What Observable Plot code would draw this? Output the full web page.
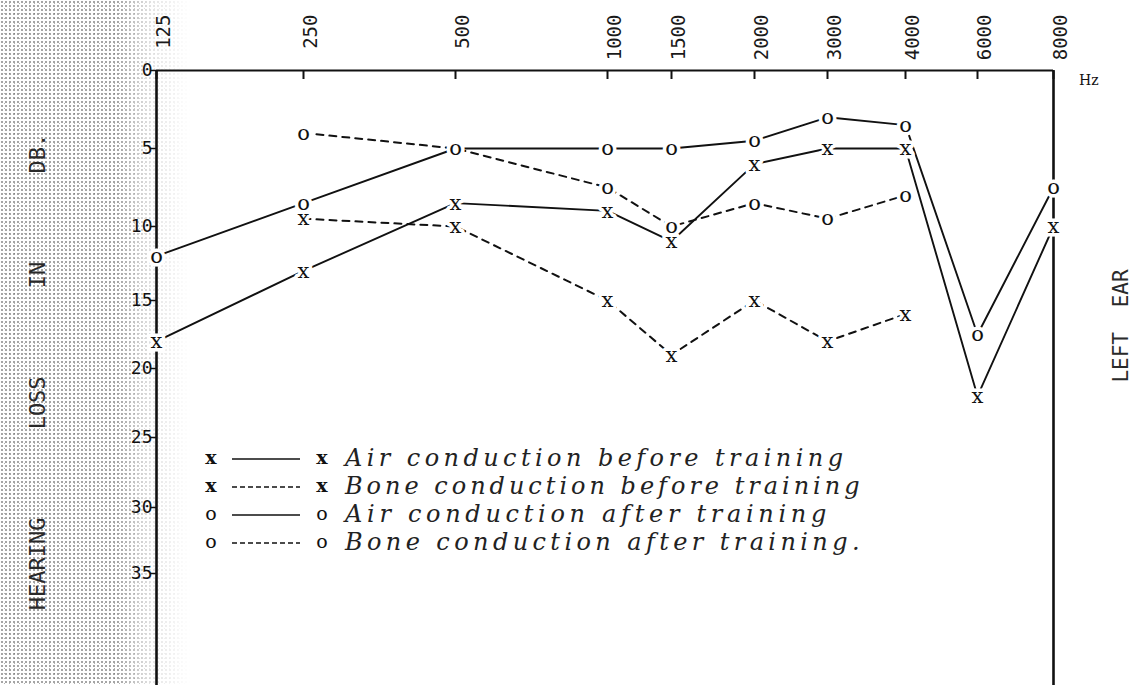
<!DOCTYPE html>
<html>
<head>
<meta charset="utf-8">
<script src="https://cdn.jsdelivr.net/npm/d3@7"></script>
<script src="https://cdn.jsdelivr.net/npm/@observablehq/plot@0.6"></script>
<style>
  html, body { margin: 0; padding: 0; background: #fff; }
  #wrap { position: relative; width: 1140px; height: 685px; overflow: hidden; background: #fff; }
  #stipple {
    position: absolute; left: 0; top: 0; width: 190px; height: 685px;
    background-image:
      radial-gradient(circle, rgba(90,90,90,0.55) 0.7px, transparent 1.1px),
      radial-gradient(circle, rgba(90,90,90,0.45) 0.6px, transparent 1px);
    background-size: 4px 4px, 5px 5px;
    background-position: 0 0, 2px 1px;
    -webkit-mask-image: linear-gradient(to right, #000 0%, #000 62%, rgba(0,0,0,0.3) 80%, transparent 100%);
    mask-image: linear-gradient(to right, #000 0%, #000 62%, rgba(0,0,0,0.3) 80%, transparent 100%);
  }
  #chart { position: absolute; left: 0; top: 0; }
  #overlay { position: absolute; left: 0; top: 0; pointer-events: none; }
</style>
</head>
<body>
<div id="wrap">
  <div id="stipple"></div>
  <div id="chart"></div>
  <svg id="overlay" width="1140" height="685"></svg>
</div>
<script>
// ---------- data ----------
const freqTicks = [125, 250, 500, 1000, 1500, 2000, 3000, 4000, 6000, 8000];
const dbTicks = [0, 5, 10, 15, 20, 25, 30, 35];

const airFreqs  = [125, 250, 500, 1000, 1500, 2000, 3000, 4000, 6000, 8000];
const boneFreqs = [250, 500, 1000, 1500, 2000, 3000, 4000];

const airBefore  = [18, 13, 8.5, 9, 11, 6, 5, 5, 22, 10];
const boneBefore = [9.5, 10, 15, 19, 15, 18, 16];
const airAfter   = [12, 8.5, 5, 5, 5, 4.5, 3, 3.5, 17.5, 7.5];
const boneAfter  = [4, 5, 7.5, 10, 8.5, 9.5, 8];

const seriesNames = [
  "Air conduction before training",
  "Bone conduction before training",
  "Air conduction after training",
  "Bone conduction after training."
];
const seriesConduction = ["Air", "Bone", "Air", "Bone"];
const seriesTiming = ["before", "before", "after", "after"];
const seriesFreqs = [airFreqs, boneFreqs, airFreqs, boneFreqs];
const seriesValues = [airBefore, boneBefore, airAfter, boneAfter];

const yTitle = "HEARING LOSS IN DB.";
const rightTitle = "LEFT EAR";
const unitLabel = "Hz";

// ---------- build table ----------
const markerFor = t => (t === "before" ? "x" : "o");
const rows = [];
seriesNames.forEach((name, i) => {
  seriesFreqs[i].forEach((f, j) => {
    rows.push({series: name, conduction: seriesConduction[i], timing: seriesTiming[i], freq: f, db: seriesValues[i][j]});
  });
});

const ink = "#111";
const monoFont = "DejaVu Sans Mono";
const serifFont = "DejaVu Serif";

// hand-ruled audiogram paper: spacing is not perfectly regular
const xRange = [156, 303, 455, 607, 671, 754, 827, 905, 977, 1053];
const yDomain = [...dbTicks, 43.3];
const yRange = [70, 148, 226, 300, 368, 437, 507, 573, 685];

const chart = Plot.plot({
  width: 1140,
  height: 685,
  marginTop: 70,
  marginLeft: 156,
  marginRight: 87,
  marginBottom: 0,
  style: {background: "transparent", overflow: "visible"},
  x: {type: "linear", domain: freqTicks, range: xRange},
  y: {type: "linear", domain: yDomain, range: yRange},
  marks: [
    Plot.ruleY([dbTicks[0]], {stroke: ink, strokeWidth: 2.2}),
    Plot.ruleX([freqTicks[0], freqTicks[freqTicks.length - 1]], {stroke: ink, strokeWidth: 2.6}),
    Plot.axisX({anchor: "top", ticks: freqTicks, tickSize: -8, tickFormat: () => "", label: null, color: ink, strokeWidth: 2}),
    Plot.text(freqTicks, {
      x: d => d, frameAnchor: "top", dy: -56, rotate: -90, textAnchor: "end",
      text: d => String(d), fontSize: 19, fontFamily: monoFont, fill: "#1a1a1a"
    }),
    Plot.axisY({anchor: "left", ticks: dbTicks, tickSize: 6, tickPadding: -2, label: null,
      fontSize: 18, fontFamily: monoFont, color: ink, strokeWidth: 1.5}),
    Plot.line(rows.filter(d => d.conduction === "Air"), {
      x: "freq", y: "db", z: "series", stroke: ink, strokeWidth: 1.9
    }),
    Plot.line(rows.filter(d => d.conduction === "Bone"), {
      x: "freq", y: "db", z: "series", stroke: ink, strokeWidth: 2, strokeDasharray: "7,6"
    }),
    Plot.text(rows, {
      x: "freq", y: "db", text: d => markerFor(d.timing),
      fontSize: 21, fontFamily: serifFont, fontWeight: d => d.timing === "before" ? "bold" : "normal",
      fill: ink, stroke: "white", strokeWidth: 7
    })
  ]
});
document.getElementById("chart").appendChild(chart);

// ---------- legend + titles (overlay) ----------
const ov = d3.select("#overlay");
const lg = {m1: 211, l0: 232, l1: 300, m2: 322, t0: 345, y0: 458, step: 28, charW: 16.6};
seriesNames.forEach((name, i) => {
  const y = lg.y0 + i * lg.step;
  const mk = markerFor(seriesTiming[i]);
  const g = ov.append("g");
  [lg.m1, lg.m2].forEach(x => {
    g.append("text").attr("x", x).attr("y", y).attr("dy", "0.32em")
      .attr("text-anchor", "middle").attr("font-family", serifFont).attr("font-size", 19)
      .attr("font-weight", mk === "x" ? "bold" : "normal").attr("fill", ink).text(mk);
  });
  g.append("line").attr("x1", lg.l0).attr("x2", lg.l1).attr("y1", y + 1).attr("y2", y + 1)
    .attr("stroke", ink).attr("stroke-width", 1.6)
    .attr("stroke-dasharray", seriesConduction[i] === "Bone" ? "5,3" : null);
  g.append("text").attr("x", lg.t0).attr("y", y).attr("dy", "0.32em")
    .attr("font-family", serifFont).attr("font-style", "italic").attr("font-size", 24)
    .attr("fill", "#222")
    .attr("textLength", name.length * lg.charW).attr("lengthAdjust", "spacing")
    .text(name);
});

ov.append("text").attr("transform", "translate(37,372) rotate(-90)")
  .attr("text-anchor", "middle").attr("dominant-baseline", "central")
  .attr("font-family", monoFont).attr("font-size", 22).attr("fill", "#2a2a2a")
  .style("word-spacing", "75px").text(yTitle);

ov.append("text").attr("transform", "translate(1121,326) rotate(-90)")
  .attr("text-anchor", "middle").attr("dominant-baseline", "central")
  .attr("font-family", monoFont).attr("font-size", 21).attr("fill", "#2a2a2a")
  .style("word-spacing", "12px").text(rightTitle);

ov.append("text").attr("x", 1079).attr("y", 80).attr("dominant-baseline", "central")
  .attr("font-family", serifFont).attr("font-size", 14).attr("fill", ink).text(unitLabel);
</script>
</body>
</html>
